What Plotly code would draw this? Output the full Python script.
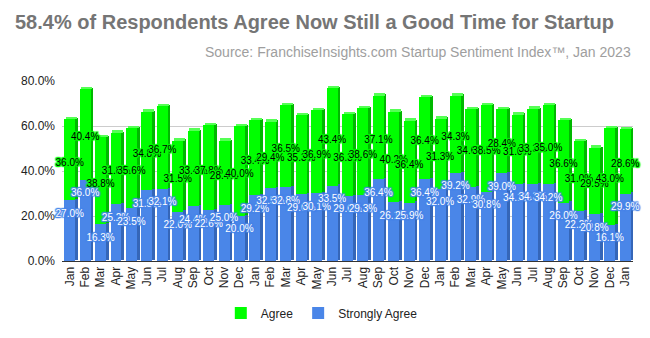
import plotly.graph_objects as go

month_labels = ["Jan", "Feb", "Mar", "Apr", "May", "Jun", "Jul", "Aug", "Sep", "Oct", "Nov", "Dec",
                "Jan", "Feb", "Mar", "Apr", "May", "Jun", "Jul", "Aug", "Sep", "Oct", "Nov", "Dec",
                "Jan", "Feb", "Mar", "Apr", "May", "Jun", "Jul", "Aug", "Sep", "Oct", "Nov", "Dec",
                "Jan"]

strongly_agree = [27.0, 36.0, 16.3, 25.2, 23.5, 31.5, 32.1, 22.0, 24.4, 22.6, 25.0, 20.0,
                  29.2, 32.5, 32.8, 29.6, 30.1, 33.5, 29.0, 29.3, 36.4, 26.1, 25.9, 36.4,
                  32.0, 39.2, 32.9, 30.8, 39.0, 34.1, 34.3, 34.2, 26.0, 22.2, 20.8, 16.1,
                  29.9]

agree = [36.0, 40.4, 38.8, 31.8, 35.6, 34.8, 36.7, 31.5, 33.4, 37.8, 28.4, 40.0,
         33.4, 29.4, 36.5, 35.3, 36.9, 43.4, 36.3, 38.6, 37.1, 40.2, 36.4, 36.4,
         31.3, 34.3, 34.6, 38.5, 28.4, 31.0, 33.3, 35.0, 36.6, 31.0, 29.5, 43.0,
         28.6]

y_tick_values = [0, 20, 40, 60, 80]
y_tick_labels = ["0.0%", "20.0%", "40.0%", "60.0%", "80.0%"]

x = list(range(len(month_labels)))
totals = [s + a for s, a in zip(strongly_agree, agree)]

FONT = "Liberation Sans, Arial, sans-serif"
BLUE, BLUE_SIDE = "#4a86e8", "#3566b8"
GREEN, GREEN_SIDE, GREEN_TOP = "#00ff00", "#00b800", "#55ff55"
W = 0.71      # front face width (category units)
SW = 0.17     # side face width
DZ = 1.1      # depth (value units)

fig = go.Figure()

# Strongly Agree: side face then front
fig.add_trace(go.Bar(x=x, y=strongly_agree, base=[DZ * 0.5] * len(x), offset=W / 2, width=SW,
                     marker=dict(color=BLUE_SIDE, line=dict(width=0)), showlegend=False, hoverinfo="skip"))
fig.add_trace(go.Bar(x=x, y=strongly_agree, base=[0] * len(x), offset=-W / 2, width=W,
                     name="Strongly Agree", legendrank=2,
                     marker=dict(color=BLUE, line=dict(width=0))))
# Agree: side, front, top
fig.add_trace(go.Bar(x=x, y=agree, base=[s + DZ * 0.5 for s in strongly_agree], offset=W / 2, width=SW,
                     marker=dict(color=GREEN_SIDE, line=dict(width=0)), showlegend=False, hoverinfo="skip"))
fig.add_trace(go.Bar(x=x, y=agree, base=strongly_agree, offset=-W / 2, width=W,
                     name="Agree", legendrank=1,
                     marker=dict(color=GREEN, line=dict(width=0))))
fig.add_trace(go.Bar(x=x, y=[DZ] * len(x), base=totals, offset=-W / 2 + SW * 0.6, width=W,
                     marker=dict(color=GREEN_TOP, line=dict(width=0)), showlegend=False, hoverinfo="skip"))

# Data labels
green_halo = ", ".join(f"{dx}px {dy}px 1px {GREEN}" for dx in (-1, 0, 1) for dy in (-1, 0, 1))
blue_halo = ", ".join(f"{dx}px {dy}px 1px {BLUE}" for dx in (-1, 0, 1) for dy in (-1, 0, 1))

fig.add_trace(go.Scatter(x=x, y=[s + a / 2 - 1.5 for s, a in zip(strongly_agree, agree)],
                         mode="text", text=[f"{a:.1f}%" for a in agree],
                         textfont=dict(family=FONT, size=10, color="#000000", shadow=green_halo),
                         showlegend=False, hoverinfo="skip", cliponaxis=False))
fig.add_trace(go.Scatter(x=x, y=[s - 6.2 for s in strongly_agree],
                         mode="text", text=[f"{s:.1f}%" for s in strongly_agree],
                         textfont=dict(family=FONT, size=10, color="#ffffff", shadow=blue_halo),
                         showlegend=False, hoverinfo="skip", cliponaxis=False))

fig.update_layout(
    width=650, height=338,
    barmode="overlay",
    bargap=0,
    plot_bgcolor="#ffffff", paper_bgcolor="#ffffff",
    margin=dict(l=62, r=17, t=81, b=76),
    font=dict(family=FONT, size=12, color="#222222"),
    title=dict(text="<b>58.4% of Respondents Agree Now Still a Good Time for Startup</b>",
               font=dict(family=FONT, size=20, color="#757575"),
               x=15 / 650, xref="container", xanchor="left",
               y=1 - 22 / 338, yref="container", yanchor="middle"),
    annotations=[dict(text="Source: FranchiseInsights.com Startup Sentiment Index™, Jan 2023",
                      xref="paper", yref="paper", x=1.0, y=1 + 29 / 181,
                      xanchor="right", yanchor="middle", showarrow=False,
                      font=dict(family=FONT, size=14, color="#9e9e9e"))],
    xaxis=dict(range=[-0.5, len(x) - 0.5], tickmode="array", tickvals=x, ticktext=month_labels,
               tickangle=-90, showgrid=False, showline=True, linecolor="#333333", linewidth=1,
               ticks="", tickfont=dict(size=12, color="#222222"), fixedrange=True),
    yaxis=dict(range=[0, 80], tickmode="array", tickvals=y_tick_values, ticktext=y_tick_labels,
               showgrid=True, gridcolor="#cccccc", gridwidth=1, zeroline=False,
               ticklabelstandoff=6,
               tickfont=dict(size=12, color="#222222"), ticks="", fixedrange=True),
    legend=dict(orientation="h", x=0.455, xanchor="center", y=-51 / 181, yanchor="middle",
                itemwidth=30, font=dict(size=12, color="#222222"), bgcolor="rgba(0,0,0,0)"),
    showlegend=True,
)

fig.write_html("out.html")
